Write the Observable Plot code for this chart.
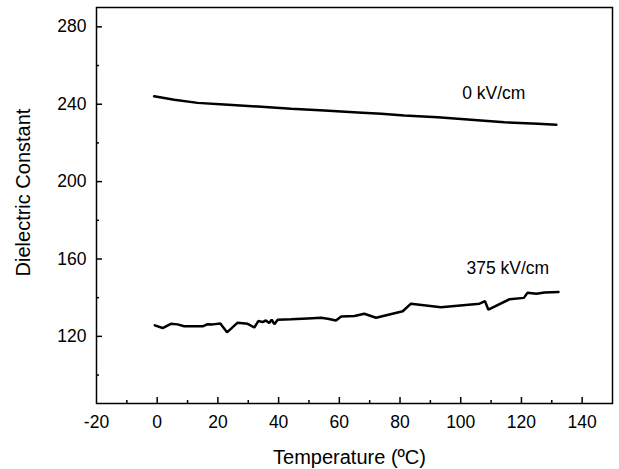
<!DOCTYPE html>
<html>
<head>
<meta charset="utf-8">
<script src="https://cdn.jsdelivr.net/npm/d3@7"></script>
<script src="https://cdn.jsdelivr.net/npm/@observablehq/plot@0.6"></script>
<style>
  html, body { margin: 0; padding: 0; background: #fff; }
  #chart svg { display: block; }
  #chart svg g[aria-label="x-axis tick label"] text,
  #chart svg g[aria-label="y-axis tick label"] text { font-size: 17.5px; }
</style>
</head>
<body>
<div id="chart"></div>
<script>
// Series: 0 kV/cm
const t0 = [-1.0, 5.6, 13.3, 22.1, 33.1, 44.1, 55.1, 66.1, 73.8, 81.4, 92.4, 103.4, 114.4, 125.4, 131.5];
const e0 = [244.1, 242.3, 240.7, 239.8, 238.8, 237.6, 236.8, 235.7, 235.1, 234.2, 233.3, 232.0, 230.7, 229.9, 229.4];
// Series: 375 kV/cm
const t375 = [-0.8, 1.8, 4.5, 6.7, 8.9, 15.0, 16.6, 18.3, 20.8, 23.0, 26.5, 29.8, 32.0, 33.3, 34.7, 35.8, 36.9, 37.7, 38.6, 39.7, 44.1, 49.6, 54.0, 56.2, 58.9, 60.6, 65.0, 68.2, 72.1, 80.9, 83.6, 93.5, 106.2, 108.0, 109.1, 116.1, 120.8, 122.0, 124.9, 127.6, 132.2];
const e375 = [125.7, 124.3, 126.5, 126.2, 125.2, 125.2, 126.3, 126.2, 126.7, 122.1, 127.1, 126.5, 124.6, 127.9, 127.4, 128.2, 126.9, 128.6, 126.3, 128.6, 128.8, 129.3, 129.6, 129.1, 128.2, 130.3, 130.5, 131.7, 129.6, 133.0, 136.9, 135.1, 136.9, 138.2, 133.8, 139.2, 139.9, 142.5, 142.0, 142.7, 143.0];
// Annotations
const labelText = ["0 kV/cm", "375 kV/cm"];
const labelX = [110.9, 115.5];
const labelY = [245.4, 155.3];
// Axes
const xDomain = [-20, 150];
const yDomain = [85.3, 290];
const xMajor = [-20, 0, 20, 40, 60, 80, 100, 120, 140];
const xMinor = [-10, 10, 30, 50, 70, 90, 110, 130];
const yMajor = [120, 160, 200, 240, 280];
const yMinor = [100, 140, 180, 220, 260];
const xLabel = "Temperature (ºC)";
const yLabel = "Dielectric Constant";

const s0 = t0.map((t, i) => ({t, e: e0[i]}));
const s375 = t375.map((t, i) => ({t, e: e375[i]}));
const ann = labelText.map((s, i) => ({s, x: labelX[i], y: labelY[i]}));

const W = 619, H = 469, mT = 7, mB = 66, mL = 96, mR = 7;
const plotH = H - mT - mB, plotW = W - mL - mR;

const chart = Plot.plot({
  width: W, height: H,
  marginTop: mT, marginBottom: mB, marginLeft: mL, marginRight: mR,
  style: {fontFamily: "Liberation Sans, Arial, sans-serif", fontSize: "17px", color: "#000", background: "#fff"},
  x: {domain: xDomain},
  y: {domain: yDomain},
  marks: [
    Plot.frame({stroke: "#000", strokeWidth: 1.5}),
    Plot.ruleX(xMajor.filter(d => d > xDomain[0]), {x: d => d, insetTop: plotH - 6, stroke: "#000", strokeWidth: 1.5}),
    Plot.ruleX(xMinor, {x: d => d, insetTop: plotH - 3, stroke: "#000", strokeWidth: 1.5}),
    Plot.ruleY(yMajor, {y: d => d, insetRight: plotW - 6, stroke: "#000", strokeWidth: 1.5}),
    Plot.ruleY(yMinor, {y: d => d, insetRight: plotW - 3, stroke: "#000", strokeWidth: 1.5}),
    Plot.axisX({ticks: xMajor, tickFormat: d => String(d), tickSize: 0, tickPadding: 12, fontSize: 17.5, label: null}),
    Plot.axisY({ticks: yMajor, tickFormat: d => String(d), tickSize: 0, tickPadding: 10, fontSize: 17.5, label: null}),
    Plot.text([xLabel], {text: d => d, frameAnchor: "bottom", textAnchor: "middle", lineAnchor: "bottom", dx: -5, dy: 60, fontSize: 20, fill: "#000"}),
    Plot.text([yLabel], {text: d => d, frameAnchor: "left", rotate: -90, textAnchor: "middle", lineAnchor: "top", dx: -81, dy: -13, fontSize: 20, fill: "#000"}),
    Plot.line(s0, {x: "t", y: "e", stroke: "#000", strokeWidth: 2.5}),
    Plot.line(s375, {x: "t", y: "e", stroke: "#000", strokeWidth: 2.5, strokeLinejoin: "miter"}),
    Plot.text(ann, {x: "x", y: "y", text: "s", fontSize: 17.5, fill: "#000"})
  ]
});
document.getElementById("chart").appendChild(chart);
</script>
</body>
</html>
